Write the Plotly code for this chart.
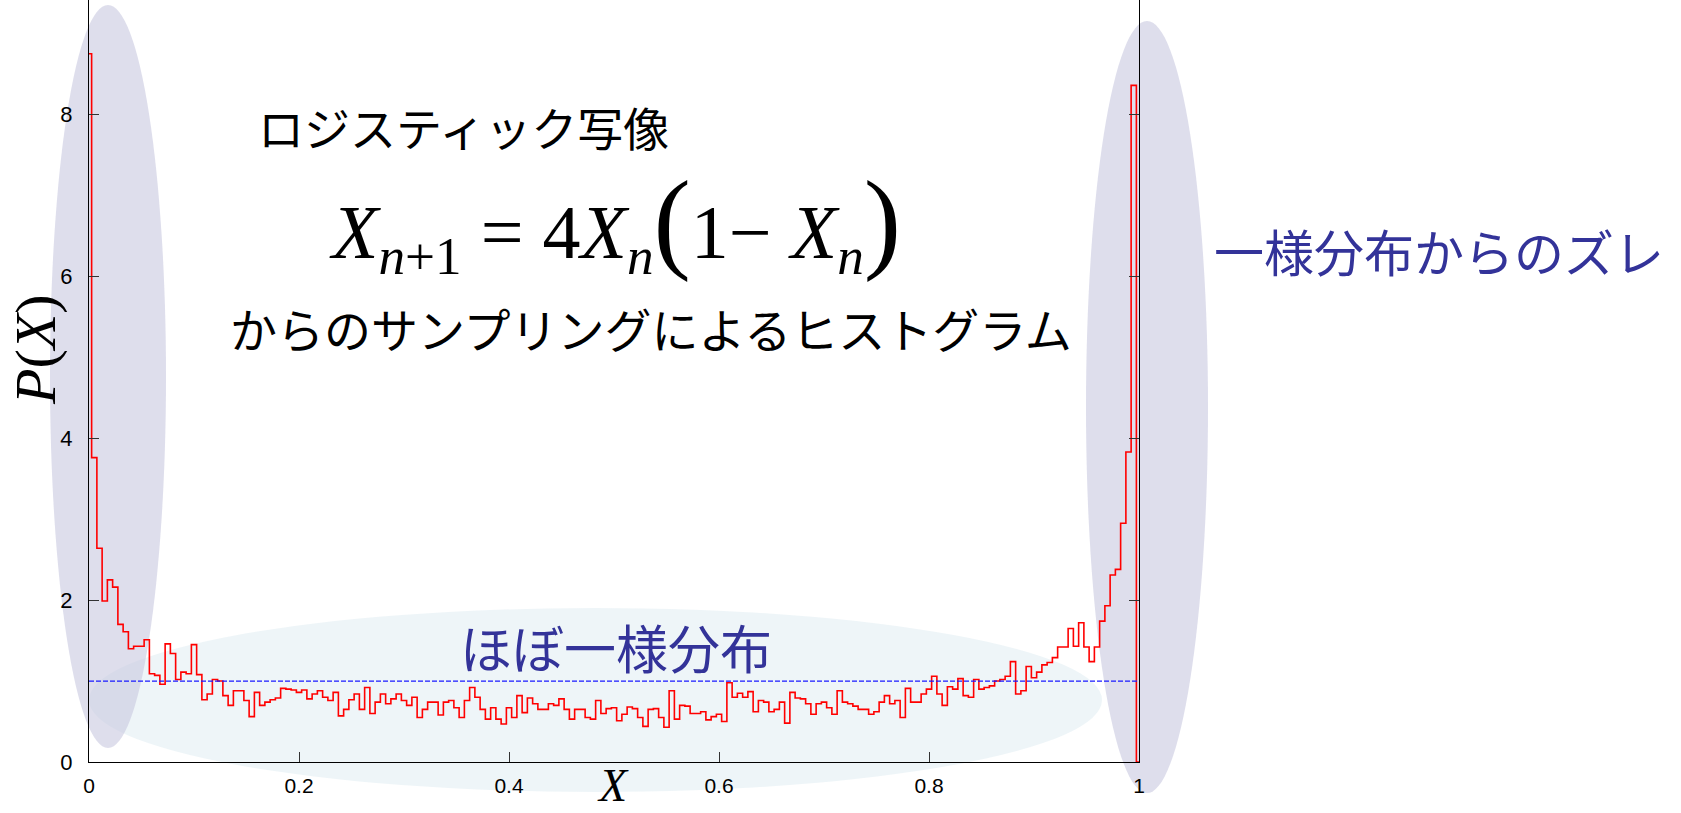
import plotly.graph_objects as go

# Histogram of samples from the logistic map X_{n+1} = 4 X_n (1 - X_n)
BIN_WIDTH = 0.005
density = [
    8.75, 3.76, 2.64, 1.99, 2.25, 2.16, 1.70, 1.61, 1.40, 1.43,
    1.43, 1.51, 1.09, 1.07, 0.96, 1.46, 1.34, 1.02, 1.11, 1.09,
    1.45, 1.08, 0.77, 0.84, 1.02, 1.00, 0.82, 0.70, 0.88, 0.88,
    0.76, 0.56, 0.86, 0.70, 0.74, 0.77, 0.79, 0.91, 0.90, 0.89,
    0.86, 0.89, 0.78, 0.84, 0.88, 0.80, 0.76, 0.86, 0.57, 0.65,
    0.77, 0.84, 0.65, 0.92, 0.60, 0.74, 0.84, 0.72, 0.78, 0.84,
    0.76, 0.70, 0.80, 0.55, 0.65, 0.74, 0.74, 0.58, 0.74, 0.76,
    0.67, 0.55, 0.76, 0.92, 0.80, 0.65, 0.53, 0.67, 0.53, 0.47,
    0.67, 0.55, 0.82, 0.61, 0.79, 0.72, 0.65, 0.65, 0.72, 0.70,
    0.78, 0.65, 0.53, 0.65, 0.65, 0.55, 0.53, 0.76, 0.60, 0.66,
    0.67, 0.51, 0.59, 0.68, 0.66, 0.55, 0.44, 0.65, 0.66, 0.55,
    0.43, 0.88, 0.53, 0.70, 0.69, 0.60, 0.60, 0.62, 0.52, 0.56,
    0.59, 0.50, 0.98, 0.80, 0.85, 0.80, 0.87, 0.62, 0.76, 0.74,
    0.62, 0.65, 0.74, 0.48, 0.86, 0.79, 0.78, 0.72, 0.59, 0.72,
    0.74, 0.67, 0.59, 0.88, 0.74, 0.72, 0.69, 0.65, 0.65, 0.59,
    0.62, 0.74, 0.82, 0.72, 0.76, 0.55, 0.91, 0.74, 0.74, 0.84,
    0.90, 1.06, 0.84, 0.70, 0.93, 0.90, 1.03, 0.82, 0.80, 1.02,
    0.90, 0.92, 0.94, 1.00, 1.02, 1.06, 1.24, 0.84, 0.88, 1.18,
    1.04, 1.11, 1.20, 1.23, 1.29, 1.42, 1.42, 1.65, 1.43, 1.72,
    1.42, 1.24, 1.42, 1.74, 1.93, 2.31, 2.38, 2.95, 3.83, 8.36,
    0.00,
]
bin_x = [round(i * BIN_WIDTH, 4) for i in range(len(density))]

# Reference level of a uniform distribution on [0, 1]
uniform_x = [0.0, 1.0]
uniform_y = [1.0, 1.0]

x_tickvals = [0, 0.2, 0.4, 0.6, 0.8, 1]
x_ticktext = ["0", "0.2", "0.4", "0.6", "0.8", "1"]
y_tickvals = [0, 2, 4, 6, 8]
y_ticktext = ["0", "2", "4", "6", "8"]

W, H = 1681, 813
M_L, M_R, M_T, M_B = 89, 542, 0, 51
PLOT_W = W - M_L - M_R
PLOT_H = H - M_T - M_B
Y_MAX = PLOT_H / 80.94


def px(xp):
    """pixel column -> paper x"""
    return (xp - M_L) / PLOT_W


def py(yp):
    """pixel row -> paper y"""
    return (H - M_B - yp) / PLOT_H


JP = "Noto Sans CJK JP, sans-serif"
SERIF = "Liberation Serif, Times New Roman, serif"
NAVY = "#333399"

fig = go.Figure()

fig.add_trace(go.Scatter(
    x=bin_x, y=density, mode="lines", line_shape="hvh",
    line=dict(color="#ff0000", width=1.6), hoverinfo="skip", showlegend=False,
))
fig.add_trace(go.Scatter(
    x=uniform_x, y=uniform_y, mode="lines",
    line=dict(color="#1a1aff", width=1.3, dash="5px,2px"),
    hoverinfo="skip", showlegend=False,
))

# Highlight ellipses
shapes = [
    dict(type="circle", xref="paper", yref="paper", layer="below",
         x0=px(89), x1=px(1102), y0=py(792), y1=py(608),
         fillcolor="rgb(227,238,243)", opacity=0.6, line=dict(width=0)),
    dict(type="circle", xref="paper", yref="paper", layer="below",
         x0=px(50), x1=px(166), y0=py(748), y1=py(5),
         fillcolor="rgb(200,200,223)", opacity=0.6, line=dict(width=0)),
    dict(type="circle", xref="paper", yref="paper", layer="below",
         x0=px(1086), x1=px(1208), y0=py(793), y1=py(21),
         fillcolor="rgb(200,200,223)", opacity=0.6, line=dict(width=0)),
]

big_paren = "<span style='font-size:112px'>{}</span>"
formula = (
    "<i>X</i><sub><i>n</i>+1</sub> = 4<i>X</i><sub><i>n</i></sub>"
    + big_paren.format("(") + "1− <i>X</i><sub><i>n</i></sub>"
    + big_paren.format(")")
)

annotations = [
    dict(text="ロジスティック写像", x=px(463), y=py(126), font=dict(family=JP, size=46, color="black")),
    dict(text=formula, x=px(615), y=py(222), font=dict(family=SERIF, size=76, color="black")),
    dict(text="からのサンプリングによるヒストグラム", x=px(651), y=py(327),
         font=dict(family=JP, size=47, color="black")),
    dict(text="一様分布からのズレ", x=px(1439), y=py(250), font=dict(family=JP, size=50, color=NAVY)),
    dict(text="ほぼ一様分布", x=px(616), y=py(646), font=dict(family=JP, size=52, color=NAVY)),
    dict(text="<i>P</i>(<i>X</i>)", x=px(35), y=py(350), textangle=-90,
         font=dict(family=SERIF, size=58, color="black")),
]
for a in annotations:
    a.update(xref="paper", yref="paper", showarrow=False, xanchor="center", yanchor="middle")

# Horizontal axis title, sitting on the bottom edge of the page
annotations.append(dict(
    text="<i>X</i>", x=px(613), y=py(813), xref="paper", yref="paper",
    showarrow=False, xanchor="center", yanchor="bottom",
    font=dict(family=SERIF, size=46, color="black"),
))

fig.update_layout(
    template="none",
    width=W, height=H,
    margin=dict(l=M_L, r=M_R, t=M_T, b=M_B, pad=0),
    paper_bgcolor="white",
    plot_bgcolor="rgba(0,0,0,0)",
    shapes=shapes,
    annotations=annotations,
    showlegend=False,
)
fig.update_xaxes(
    range=[0, 1], tickvals=x_tickvals, ticktext=x_ticktext,
    showgrid=False, zeroline=False, showline=True, linecolor="black", linewidth=1.4,
    mirror=False, ticks="inside", ticklen=10, tickcolor="#333", tickwidth=1,
    ticklabelstandoff=5, tickfont=dict(family="Liberation Sans, Arial", size=21, color="black"),
)
fig.update_yaxes(
    range=[0, Y_MAX], tickvals=y_tickvals, ticktext=y_ticktext,
    showgrid=False, zeroline=False, showline=True, linecolor="black", linewidth=1.4,
    mirror="ticks", ticks="inside", ticklen=10, tickcolor="#333", tickwidth=1,
    ticklabelstandoff=11, tickfont=dict(family="Liberation Sans, Arial", size=22, color="black"),
)

fig.write_html("out.html")
